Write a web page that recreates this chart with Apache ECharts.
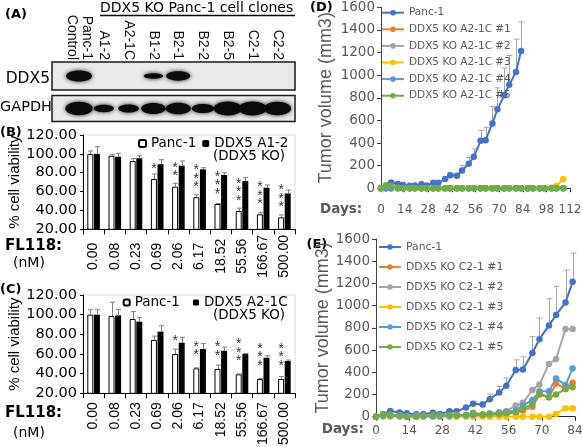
<!DOCTYPE html>
<html><head><meta charset="utf-8">
<script src="https://cdn.jsdelivr.net/npm/echarts@6/dist/echarts.min.js"></script>
<style>html,body{margin:0;padding:0;background:#fff}#c{width:583px;height:447px}</style>
</head><body><div id="c"></div>
<script>
// ---------- DATA ----------
// (A) western blot: lanes and relative band signal
const laneNames = ['Panc-1\nControl','A1-2','A2-1C','B1-2','B2-1','B2-2','B2-5','C2-1','C2-2'];
const ddx5Signal = [1.0, 0, 0, 0.35, 0.8, 0, 0, 0, 0];
const gapdhSignal = [0.95, 0.45, 0.5, 0.75, 0.8, 0.6, 1.0, 1.0, 0.95];

// (B)/(C) FL118 dose (nM) – % cell viability
const doseLabels = ['0.00','0.08','0.23','0.69','2.06','6.17','18.52','55.56','166.67','500.00'];
const bPanc    = [100, 98, 92.4, 73.3, 65.2, 54, 46.8, 39.4, 35.9, 32.7];
const bPancErr = [3, 1.5, 2.6, 5.3, 3.6, 2.7, 0.5, 3, 1.7, 2.5];
const bKO      = [100, 97, 95.3, 89, 87.5, 83.6, 77.6, 71.2, 64.1, 58];
const bKOErr   = [7.6, 3.6, 2.7, 4.8, 4.9, 1.7, 2.4, 3.5, 2.9, 3.7];
const bStars   = ['', '', '', '*', '**', '***', '***', '***', '***', '***'];

const cPanc    = [100, 98.6, 95.6, 74.2, 60, 45.4, 44.7, 39.3, 34.5, 34.5];
const cPancErr = [5, 14, 7.5, 4, 4.8, 0.5, 4, 0.5, 0.5, 2.5];
const cKO      = [100, 99.3, 92.9, 82.7, 71.5, 65.1, 63.3, 59.9, 56.2, 52.8];
const cKOErr   = [5, 6, 4, 6, 5.5, 5.5, 3.6, 0.5, 2, 1];
const cStars   = ['', '', '', '', '*', '**', '**', '***', '***', '***'];

// (D)/(E) tumor volume (mm3) over days
const days     = [0,3,6,10,13,17,20,24,27,31,34,38,41,45,48,52,55,59,62,66,69,73,76,80,83];
const daysLong = [0,3,6,10,13,17,20,24,27,31,34,38,41,45,48,52,55,59,62,66,69,73,76,80,83,87,90,94,97,101,104,108];
const pancVol  = [0,22,52,37,30,22,25,36,25,48,49,82,116,110,158,217,278,420,424,573,698,822,916,1029,1214];
const pancErr  = [4,6,8,6,5,5,5,6,5,8,8,12,18,22,45,55,70,92,115,150,190,240,258,290,258];

const dA1 = [0,0,0,0,0,0,0,0,0,0,0,0,0,0,0,0,0,0,0,0,0,0,0,0,0,0,0,0,0,0,0,0];
const dA2 = [0,0,0,0,0,0,0,0,0,0,0,0,0,0,0,0,0,0,0,0,0,0,0,0,0,0,0,0,0,0,0,0];
const dA3 = [0,5,0,0,0,0,0,0,0,0,0,0,0,0,0,0,0,0,0,0,0,0,0,0,0,0,0,0,0,5,20,83];
const dA4 = [0,0,0,0,0,0,0,0,0,0,0,0,0,0,0,0,0,0,0,0,0,0,0,0,0,0,0,0,0,0,0,0];
const dA5 = [0,28,20,5,0,0,0,0,0,0,0,0,0,0,0,0,0,0,0,0,0,0,0,0,0,0,0,0,0,0,0,0];

const eC1 = [0,10,12,5,0,5,5,5,5,8,10,10,15,10,15,20,25,35,55,90,200,175,300,250,305];
const eC2 = [0,15,18,10,5,8,10,10,10,12,15,15,20,20,30,40,50,100,125,240,290,475,520,790,790];
const eC3 = [0,0,0,0,0,0,0,0,0,0,0,0,0,0,0,0,0,0,0,0,0,0,25,75,75];
const eC4 = [0,8,10,5,0,0,5,5,5,8,10,10,15,15,20,30,45,55,100,150,230,230,345,285,435];
const eC5 = [0,20,15,10,5,5,10,10,10,15,10,15,35,20,25,25,30,40,70,115,210,175,200,250,265];

const dNames = ['Panc-1','DDX5 KO A2-1C #1','DDX5 KO A2-1C #2','DDX5 KO A2-1C #3','DDX5 KO A2-1C #4','DDX5 KO A2-1C #5'];
const eNames = ['Panc-1','DDX5 KO C2-1 #1','DDX5 KO C2-1 #2','DDX5 KO C2-1 #3','DDX5 KO C2-1 #4','DDX5 KO C2-1 #5'];
const palette = ['#4472C4','#ED7D31','#A5A5A5','#FFC000','#5B9BD5','#70AD47'];

// ---------- CHART ----------
const FS = 'DejaVu Sans', LS = 'Liberation Sans';
const chart = echarts.init(document.getElementById('c'), null, {width:583, height:447});

function blotBands(idx, signals, rxB, rxK, ryB, ryK){
  return {type:'custom', xAxisIndex:idx, yAxisIndex:idx, silent:true, z:3,
    data: signals.map((s,i)=>[i,s]),
    renderItem(p, api){
      const s = api.value(1);
      if (!(s > 0)) return null;
      const c = api.coord([api.value(0), 0.5]);
      return {type:'ellipse', shape:{cx:c[0], cy:c[1], rx:rxB+rxK*s, ry:ryB+ryK*s},
        style:{fill:'#0a0a0a', shadowBlur:4, shadowColor:'rgba(0,0,0,0.85)'}};
    }};
}
function laneLabels(){
  return {type:'custom', xAxisIndex:0, yAxisIndex:0, silent:true,
    data: laneNames.map((n,i)=>[i]),
    renderItem(p, api){
      const c = api.coord([api.value(0), 1]);
      return {type:'text', x:c[0], y:c[1]-2, rotation:-Math.PI/2,
        style:{text:laneNames[p.dataIndex], align:'right', verticalAlign:'middle',
          font:'14px "Liberation Sans"', lineHeight:15, fill:'#111'}};
    }};
}
function barErr(idx, vals, errs, side){
  return {type:'custom', xAxisIndex:idx, yAxisIndex:idx, silent:true, z:3,
    data: vals.map((v,i)=>[i, v, v+errs[i]]),
    renderItem(p, api){
      const a = api.coord([api.value(0), api.value(1)]);
      const b = api.coord([api.value(0), api.value(2)]);
      const x = Math.round(a[0] + side*3.3) + 0.5;
      return {type:'group', children:[
        {type:'line', shape:{x1:x, y1:a[1], x2:x, y2:b[1]}, style:{stroke:'#7f7f7f', lineWidth:1}},
        {type:'line', shape:{x1:x-2.5, y1:b[1], x2:x+2.5, y2:b[1]}, style:{stroke:'#7f7f7f', lineWidth:1}}]};
    }};
}
function stars(idx, vals, marks, shift){
  return {type:'custom', xAxisIndex:idx, yAxisIndex:idx, silent:true, z:4,
    data: vals.map((v,i)=>[i, v]),
    renderItem(p, api){
      const t = marks[p.dataIndex];
      if (!t) return null;
      const a = api.coord([api.value(0), api.value(1)]);
      return {type:'text', x:a[0]-3.3, y:a[1]+shift,
        style:{text:t.split('').join('\n'), align:'center', verticalAlign:'bottom',
          font:'14px "Liberation Sans"', lineHeight:8.3, fill:'#333'}};
    }};
}
function lineErr(idx, xs, ys, es){
  return {type:'custom', xAxisIndex:idx, yAxisIndex:idx, silent:true, z:1,
    data: xs.map((x,i)=>[x, ys[i], ys[i]+es[i]]),
    renderItem(p, api){
      const a = api.coord([api.value(0), api.value(1)]);
      const b = api.coord([api.value(0), api.value(2)]);
      const x = Math.round(a[0]) + 0.5;
      return {type:'group', children:[
        {type:'line', shape:{x1:x, y1:a[1], x2:x, y2:b[1]}, style:{stroke:'#a6a6a6', lineWidth:1}},
        {type:'line', shape:{x1:x-3, y1:b[1], x2:x+3, y2:b[1]}, style:{stroke:'#a6a6a6', lineWidth:1}}]};
    }};
}
function lineSeries(idx, key, name, xs, ys, color){
  return {type:'line', name:key+':'+name, xAxisIndex:idx, yAxisIndex:idx, z:2,
    data: xs.map((x,i)=>[x, ys[i]]), symbol:'circle', symbolSize:6.5, showSymbol:true,
    lineStyle:{color, width:2}, itemStyle:{color}, animation:false};
}

const blotX = {type:'value', min:-1.09, max:8.71, show:false};
const blotY = {type:'value', min:0, max:1, show:false};

function barXAxis(idx, margin, align){
  return {type:'category', gridIndex:idx, data:doseLabels,
    axisLine:{lineStyle:{color:'#000', width:1}}, axisTick:{show:true, length:5, lineStyle:{color:'#000'}},
    axisLabel:{interval:0, rotate:90, margin, align, fontFamily:LS, fontSize:14, color:'#000'},
    splitLine:{show:false}};
}
function barYAxis(idx){
  return {type:'value', gridIndex:idx, min:20, max:120, interval:20,
    name:'% cell viability', nameLocation:'middle', nameGap:61,
    nameTextStyle:{fontFamily:LS, fontSize:15, color:'#000'},
    axisLine:{show:true, lineStyle:{color:'#000'}}, axisTick:{show:true, length:3, lineStyle:{color:'#000'}},
    axisLabel:{formatter:v=>v.toFixed(2), fontFamily:FS, fontSize:14.5, color:'#000', margin:6},
    splitLine:{show:false}};
}
function volXAxis(idx, max, margin){
  return {type:'value', gridIndex:idx, min:0, max, interval:14,
    axisLine:{show:true, onZero:false, lineStyle:{color:'#262626'}},
    axisTick:{show:true, length:4, lineStyle:{color:'#262626'}},
    axisLabel:{fontFamily:FS, fontSize:12, color:'#595959', margin, formatter:v=>String(v)},
    splitLine:{show:false}};
}
function volYAxis(idx, gap){
  return {type:'value', gridIndex:idx, min:0, max:1600, interval:200,
    name:'Tumor volume (mm3)', nameLocation:'middle', nameGap:gap,
    nameTextStyle:{fontFamily:LS, fontSize:18, color:'#595959'},
    axisLine:{show:true, lineStyle:{color:'#404040'}},
    axisTick:{show:true, length:4, lineStyle:{color:'#404040'}},
    axisLabel:{fontFamily:FS, fontSize:13.5, color:'#595959', margin:6, formatter:v=>String(v)},
    splitLine:{show:false}};
}

const gBase = {containLabel:false, outerBoundsMode:'none'};
const option = {
  animation:false,
  backgroundColor:'#fff',
  grid:[
    Object.assign({left:52, top:62, width:243, height:28, show:true, backgroundColor:'#e9e9e9', borderColor:'#1a1a1a', borderWidth:1.5}, gBase),
    Object.assign({left:52, top:95.5, width:243, height:26, show:true, backgroundColor:'#e9e9e9', borderColor:'#1a1a1a', borderWidth:1.5}, gBase),
    Object.assign({left:83, top:135, width:212, height:94.3, show:true, borderColor:'#d9d9d9', borderWidth:1}, gBase),
    Object.assign({left:83, top:295, width:212, height:98.3, show:true, borderColor:'#d9d9d9', borderWidth:1}, gBase),
    Object.assign({left:381, top:7.3, width:189, height:181}, gBase),
    Object.assign({left:376, top:239, width:199, height:177.7}, gBase)
  ],
  xAxis:[
    Object.assign({gridIndex:0}, blotX), Object.assign({gridIndex:1}, blotX),
    barXAxis(2, 27, 'center'), barXAxis(3, 9, 'right'),
    volXAxis(4, 112, 16), volXAxis(5, 84, 8)
  ],
  yAxis:[
    Object.assign({gridIndex:0}, blotY), Object.assign({gridIndex:1}, blotY),
    barYAxis(2), barYAxis(3),
    volYAxis(4, 46), volYAxis(5, 42)
  ],
  legend:[
    {data:['B:Panc-1','B:DDX5 A1-2'], left:138, top:136.5, padding:0, itemWidth:7, itemHeight:7, itemGap:6, selectedMode:false,
     formatter:n=>n.slice(2), textStyle:{fontFamily:FS, fontSize:13.5, color:'#000'}},
    {data:['C:Panc-1','C:DDX5 A2-1C'], left:122.7, top:295.5, padding:0, itemWidth:6, itemHeight:6, itemGap:13, selectedMode:false,
     formatter:n=>n.slice(2), textStyle:{fontFamily:FS, fontSize:13.5, color:'#000'}},
    {data:dNames.map(n=>'D:'+n), orient:'vertical', left:381, top:6.7, padding:0, itemWidth:22, itemHeight:7, itemGap:4.6, selectedMode:false,
     formatter:n=>n.slice(2), textStyle:{fontFamily:FS, fontSize:10.5, lineHeight:12, color:'#595959'}},
    {data:eNames.map(n=>'E:'+n), orient:'vertical', left:378, top:241, padding:0, itemWidth:22, itemHeight:7, itemGap:8, selectedMode:false,
     formatter:n=>n.slice(2), textStyle:{fontFamily:FS, fontSize:10.8, lineHeight:12, color:'#595959'}}
  ],
  series:[
    blotBands(0, ddx5Signal, 8, 5, 1.2, 4.3),
    blotBands(1, gapdhSignal, 7, 7, 1, 6),
    laneLabels(),
    {type:'bar', name:'B:Panc-1', xAxisIndex:2, yAxisIndex:2, data:bPanc, barWidth:6, barGap:'10%',
     itemStyle:{color:'#fff', borderColor:'#000', borderWidth:1}},
    {type:'bar', name:'B:DDX5 A1-2', xAxisIndex:2, yAxisIndex:2, data:bKO, barWidth:6, barGap:'10%',
     itemStyle:{color:'#000', borderColor:'#000', borderWidth:0}},
    barErr(2, bPanc, bPancErr, -1), barErr(2, bKO, bKOErr, 1), stars(2, bPanc, bStars, -6),
    {type:'bar', name:'C:Panc-1', xAxisIndex:3, yAxisIndex:3, data:cPanc, barWidth:6, barGap:'10%',
     itemStyle:{color:'#fff', borderColor:'#000', borderWidth:1}},
    {type:'bar', name:'C:DDX5 A2-1C', xAxisIndex:3, yAxisIndex:3, data:cKO, barWidth:6, barGap:'10%',
     itemStyle:{color:'#000', borderColor:'#000', borderWidth:0}},
    barErr(3, cPanc, cPancErr, -1), barErr(3, cKO, cKOErr, 1), stars(3, cPanc, cStars, -9),
    lineErr(4, days, pancVol, pancErr),
    lineSeries(4, 'D', dNames[0], days, pancVol, palette[0]),
    lineSeries(4, 'D', dNames[1], daysLong, dA1, palette[1]),
    lineSeries(4, 'D', dNames[2], daysLong, dA2, palette[2]),
    lineSeries(4, 'D', dNames[3], daysLong, dA3, palette[3]),
    lineSeries(4, 'D', dNames[4], daysLong, dA4, palette[4]),
    lineSeries(4, 'D', dNames[5], daysLong, dA5, palette[5]),
    lineErr(5, days, pancVol, pancErr),
    lineSeries(5, 'E', eNames[0], days, pancVol, palette[0]),
    lineSeries(5, 'E', eNames[1], days, eC1, palette[1]),
    lineSeries(5, 'E', eNames[2], days, eC2, palette[2]),
    lineSeries(5, 'E', eNames[3], days, eC3, palette[3]),
    lineSeries(5, 'E', eNames[4], days, eC4, palette[4]),
    lineSeries(5, 'E', eNames[5], days, eC5, palette[5])
  ],
  graphic:[
    {type:'text', x:5, y:15, style:{text:'(A)', font:'bold 13px "DejaVu Sans"', fill:'#000', verticalAlign:'middle'}},
    {type:'text', x:0, y:133, style:{text:'(B)', font:'bold 13px "DejaVu Sans"', fill:'#000', verticalAlign:'middle'}},
    {type:'text', x:0, y:290, style:{text:'(C)', font:'bold 13px "DejaVu Sans"', fill:'#000', verticalAlign:'middle'}},
    {type:'text', x:310, y:7.5, style:{text:'(D)', font:'bold 13px "DejaVu Sans"', fill:'#000', verticalAlign:'middle'}},
    {type:'text', x:306.5, y:245, style:{text:'(E)', font:'bold 13px "DejaVu Sans"', fill:'#000', verticalAlign:'middle'}},
    {type:'text', x:100, y:8, style:{text:'DDX5 KO Panc-1 cell clones', font:'14px "DejaVu Sans"', fill:'#000', verticalAlign:'middle'}},
    {type:'line', shape:{x1:100, y1:15.5, x2:295, y2:15.5}, style:{stroke:'#000', lineWidth:1.5}},
    {type:'text', x:50, y:79, style:{text:'DDX5', font:'15.5px "DejaVu Sans"', fill:'#000', align:'right', verticalAlign:'middle'}},
    {type:'text', x:52, y:107.5, style:{text:'GAPDH', font:'14.5px "DejaVu Sans"', fill:'#000', align:'right', verticalAlign:'middle'}},
    {type:'text', x:5, y:246, style:{text:'FL118:', font:'bold 15px "DejaVu Sans"', fill:'#000', verticalAlign:'middle'}},
    {type:'text', x:13, y:263.5, style:{text:'(nM)', font:'14px "DejaVu Sans"', fill:'#000', verticalAlign:'middle'}},
    {type:'text', x:5, y:413.5, style:{text:'FL118:', font:'bold 15px "DejaVu Sans"', fill:'#000', verticalAlign:'middle'}},
    {type:'text', x:13, y:433.5, style:{text:'(nM)', font:'14px "DejaVu Sans"', fill:'#000', verticalAlign:'middle'}},
    {type:'text', x:249, y:156, style:{text:'(DDX5 KO)', font:'13.5px "DejaVu Sans"', fill:'#000', align:'center', verticalAlign:'middle'}},
    {type:'text', x:249, y:315, style:{text:'(DDX5 KO)', font:'13.5px "DejaVu Sans"', fill:'#000', align:'center', verticalAlign:'middle'}},
    {type:'text', x:320, y:209.3, style:{text:'Days:', font:'bold 13.5px "DejaVu Sans"', fill:'#595959', verticalAlign:'middle'}},
    {type:'text', x:321.7, y:429.3, style:{text:'Days:', font:'bold 13.5px "DejaVu Sans"', fill:'#595959', verticalAlign:'middle'}}
  ]
};
chart.setOption(option);
</script>
</body></html>
